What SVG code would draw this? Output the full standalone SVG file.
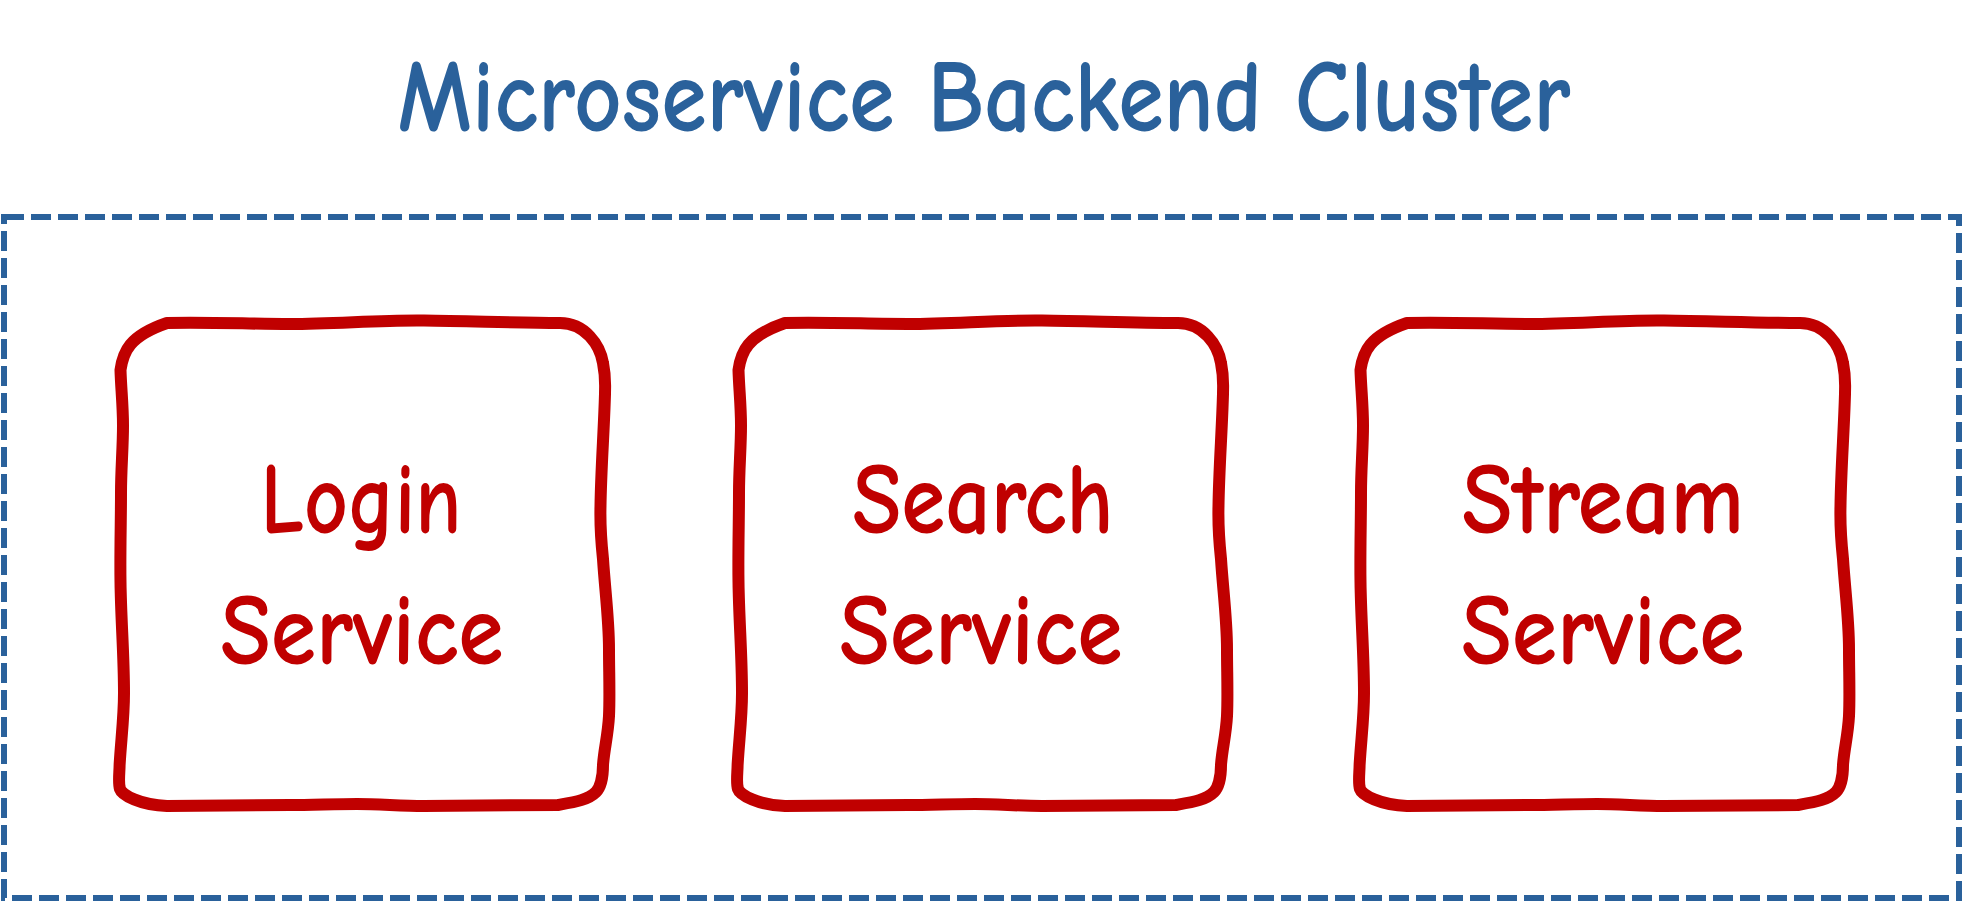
<svg xmlns="http://www.w3.org/2000/svg" width="1963" height="902" viewBox="0 0 1963 902">
<style>
.title{font-family:"Comic Sans MS","Comic Neue","Liberation Sans",sans-serif;font-size:104px;font-weight:bold;fill:#2A619B;text-anchor:middle}
.lbl{font-family:"Comic Sans MS","Comic Neue","Liberation Sans",sans-serif;font-size:102px;font-weight:bold;fill:#C00000;text-anchor:middle}
.box{fill:#FFFFFF;stroke:#C00000;stroke-width:12;stroke-linejoin:round;stroke-linecap:round}
.cluster{fill:none;stroke:#2A619B;stroke-width:6;stroke-dasharray:20 7}
</style>
<defs>
<path id="wobble" d="M120.5,370 C123,352 129,336 167,323 C210,322 250,324 290,324 C335,324 380,320 424,320.6 C470,321 515,323 560,323 C585,323 600,345 603,363 C606,378 605,386 605,394 C604,430 601,470 600.5,506 C600,525 601,540 603,559 C605,590 609,620 609,649 C609,672 610,695 609,716 C608,735 604,750 603,765 C603,778 600,788 596,792 C588,800 575,802 558,805 C514,805 469,806 424,806 C400,806 380,804 357,804 C335,804 312,805 290,805 C250,805 210,806 167,806 C140,805 122,795 120,789 C118,783 119.6,772 119.6,765 C121,740 124,718 124,693 C124,655 121,620 120.5,582 C120,552 121,522 121,492.5 C121,470 123,447 123,425.5 C123,405 121,388 120.5,370 Z"/>
</defs>
<g id="cluster">
<rect class="cluster" x="4" y="217" width="1955" height="681"/>
</g>
<g id="title">
<text class="title" x="984" y="131" textLength="1173" lengthAdjust="spacingAndGlyphs">Microservice Backend Cluster</text>
</g>
<g id="login-service">
<use href="#wobble" class="box"/>
<text class="lbl" x="361" y="533" textLength="201" lengthAdjust="spacingAndGlyphs">Login</text>
<text class="lbl" x="362" y="664" textLength="283" lengthAdjust="spacingAndGlyphs">Service</text>
</g>
<g id="search-service">
<use href="#wobble" class="box" transform="translate(618,0)"/>
<text class="lbl" x="983" y="533" textLength="261" lengthAdjust="spacingAndGlyphs">Search</text>
<text class="lbl" x="981" y="664" textLength="283" lengthAdjust="spacingAndGlyphs">Service</text>
</g>
<g id="stream-service">
<use href="#wobble" class="box" transform="translate(1240,0)"/>
<text class="lbl" x="1603" y="533" textLength="282" lengthAdjust="spacingAndGlyphs">Stream</text>
<text class="lbl" x="1603" y="664" textLength="283" lengthAdjust="spacingAndGlyphs">Service</text>
</g>
<g id="connectors"></g>
</svg>
